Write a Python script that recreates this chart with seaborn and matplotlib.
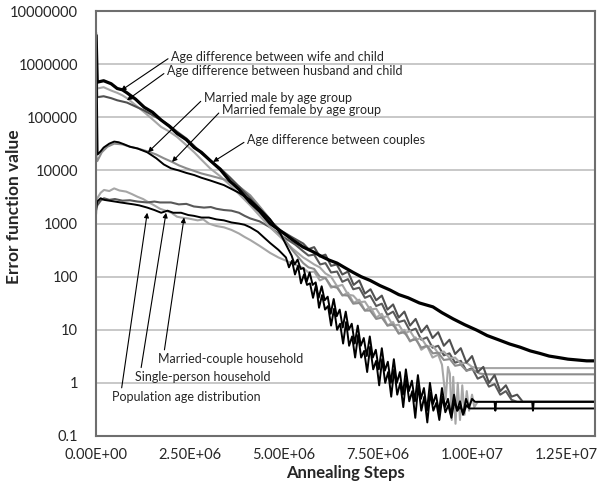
import matplotlib
matplotlib.use('Agg')
import matplotlib.pyplot as plt
import seaborn as sns
import pandas as pd
from matplotlib.ticker import NullLocator

# (annealing steps in millions, error function value)
wife_child = [
    (0, 3.5e6), (0.03, 4.6e5), (0.2, 4.9e5), (0.4, 4.3e5), (0.56, 3.5e5), (0.7, 3.3e5),
    (0.82, 2.9e5), (1.05, 2.2e5), (1.28, 1.55e5), (1.5, 1.25e5), (1.73, 8.9e4), (1.95, 6.8e4),
    (2.15, 5.0e4), (2.4, 3.8e4), (2.61, 2.7e4), (2.8, 2.2e4), (3.03, 1.55e4), (3.3, 1.05e4),
    (3.56, 6.3e3), (3.8, 4.4e3), (4.1, 2.5e3), (4.35, 1.7e3), (4.63, 1.0e3), (5.0, 650),
    (5.25, 480), (5.51, 360), (5.75, 300), (6.0, 240), (6.2, 205), (6.41, 180), (6.6, 150),
    (6.84, 120), (7.05, 100), (7.29, 85), (7.55, 68), (7.82, 56), (8.05, 46), (8.3, 40),
    (8.6, 32), (8.96, 27), (9.2, 21), (9.5, 16), (9.8, 12.5), (10.13, 9.8), (10.4, 7.8),
    (10.7, 6.5), (11.0, 5.4), (11.28, 4.7), (11.55, 4.0), (11.8, 3.6), (12.05, 3.2),
    (12.3, 3.0), (12.55, 2.8), (12.8, 2.7), (13.05, 2.6), (13.27, 2.6),
]
husband_child = [
    (0, 2.0e6), (0.03, 3.5e5), (0.2, 3.7e5), (0.4, 3.2e5), (0.56, 2.9e5), (0.7, 2.6e5),
    (0.82, 2.3e5), (1.05, 1.7e5), (1.28, 1.25e5), (1.5, 9.2e4), (1.73, 6.6e4), (1.95, 5.4e4),
    (2.15, 4.3e4), (2.4, 3.0e4), (2.61, 2.2e4), (2.8, 1.6e4), (3.03, 1.1e4), (3.3, 7.8e3),
    (3.56, 5.3e3), (3.8, 3.6e3), (4.1, 2.2e3), (4.35, 1.4e3), (4.63, 850), (4.9, 560),
    (5.2, 350), (5.51, 230), (5.65, 200), (5.8, 170), (5.95, 150), (6.1, 115), (6.25, 100),
    (6.41, 66), (6.55, 70), (6.7, 46), (6.84, 44), (7.0, 33), (7.15, 34), (7.29, 24),
    (7.45, 25), (7.6, 17), (7.75, 18), (7.9, 12), (8.05, 12.5), (8.2, 8.5), (8.35, 9.5),
    (8.5, 6.5), (8.65, 7.0), (8.8, 4.8), (8.96, 5.0), (9.1, 3.6), (9.25, 3.9), (9.41, 2.9),
    (9.55, 3.0), (9.7, 2.3), (9.85, 2.4), (10.0, 2.0), (10.13, 1.9), (13.27, 1.9),
]
couples = [
    (0, 1.5e6), (0.03, 2.4e5), (0.2, 2.5e5), (0.4, 2.3e5), (0.56, 2.1e5), (0.82, 1.9e5),
    (1.05, 1.6e5), (1.28, 1.35e5), (1.5, 1.1e5), (1.73, 8.9e4), (1.95, 7.0e4), (2.15, 5.4e4),
    (2.4, 4.0e4), (2.61, 2.9e4), (2.8, 2.1e4), (3.03, 1.55e4), (3.3, 1.1e4), (3.56, 7.4e3),
    (3.8, 5.0e3), (4.1, 3.0e3), (4.35, 1.9e3), (4.63, 1.15e3), (4.9, 750), (5.2, 560),
    (5.51, 420), (5.65, 330), (5.8, 360), (5.95, 240), (6.1, 260), (6.25, 160), (6.4, 170),
    (6.55, 110), (6.7, 125), (6.85, 70), (7.0, 85), (7.15, 48), (7.3, 58), (7.45, 36),
    (7.6, 44), (7.75, 24), (7.9, 30), (8.05, 17), (8.2, 22), (8.35, 12), (8.5, 16), (8.65, 9),
    (8.8, 12), (8.95, 7), (9.1, 9), (9.25, 5), (9.4, 6.5), (9.55, 3.5), (9.7, 4.5),
    (9.85, 2.4), (10.0, 3.2), (10.15, 1.6), (10.3, 2.0), (10.45, 1.0), (10.6, 1.4),
    (10.75, 0.7), (10.9, 0.9), (11.05, 0.55), (11.2, 0.6), (11.35, 0.44), (13.27, 0.44),
]
married_male = [
    (0, 4.0e6), (0.04, 2.0e4), (0.12, 2.3e4), (0.2, 2.7e4), (0.35, 3.2e4), (0.48, 3.5e4),
    (0.6, 3.4e4), (0.75, 3.1e4), (0.9, 2.8e4), (1.1, 2.6e4), (1.36, 2.2e4), (1.6, 1.7e4),
    (1.8, 1.3e4), (1.99, 1.1e4), (2.2, 1.0e4), (2.4, 9.0e3), (2.61, 8.2e3), (2.8, 7.3e3),
    (3.03, 6.5e3), (3.4, 5.3e3), (3.8, 3.8e3), (4.1, 2.8e3), (4.35, 1.9e3), (4.63, 1.2e3),
    (4.9, 650), (5.2, 250), (5.28, 170), (5.36, 210), (5.44, 140), (5.52, 145), (5.6, 80),
    (5.68, 120), (5.76, 70), (5.84, 78), (5.92, 40), (6.0, 66), (6.08, 36), (6.16, 42),
    (6.24, 20), (6.32, 38), (6.4, 18), (6.48, 24), (6.56, 11), (6.64, 22), (6.72, 10),
    (6.8, 13), (6.88, 5.5), (6.96, 12), (7.04, 5), (7.12, 7), (7.2, 3.2), (7.28, 7.5),
    (7.36, 3), (7.44, 4.2), (7.52, 1.8), (7.6, 4.5), (7.68, 1.7), (7.76, 2.5), (7.84, 1.0),
    (7.92, 2.8), (8.0, 1.0), (8.08, 1.6), (8.16, 0.6), (8.24, 1.8), (8.32, 0.7), (8.4, 1.1),
    (8.48, 0.45), (8.56, 1.4), (8.64, 0.5), (8.72, 0.8), (8.8, 0.3), (8.88, 1.0), (8.96, 0.4),
    (9.04, 0.6), (9.12, 0.28), (9.2, 0.8), (9.28, 0.35), (9.36, 0.5), (9.44, 0.25),
    (9.52, 0.6), (9.6, 0.3), (9.68, 0.45), (9.76, 0.25), (9.84, 0.5), (9.92, 0.35),
    (10.0, 0.5), (10.08, 0.44), (10.6, 0.44), (10.62, 0.3), (10.64, 0.44), (11.6, 0.44),
    (11.62, 0.3), (11.64, 0.44), (13.27, 0.44),
]
married_female = [
    (0, 2.0e4), (0.03, 1.5e4), (0.15, 2.2e4), (0.3, 2.8e4), (0.48, 3.2e4), (0.7, 3.1e4),
    (0.9, 2.8e4), (1.1, 2.6e4), (1.36, 2.3e4), (1.6, 2.0e4), (1.8, 1.7e4), (2.02, 1.45e4),
    (2.2, 1.25e4), (2.4, 1.1e4), (2.61, 9.8e3), (2.8, 8.8e3), (3.03, 8.0e3), (3.4, 6.8e3),
    (3.8, 5.0e3), (4.1, 3.4e3), (4.35, 2.1e3), (4.63, 1.2e3), (4.9, 650), (5.2, 330),
    (5.51, 180), (5.65, 150), (5.8, 140), (5.95, 100), (6.1, 95), (6.25, 66), (6.41, 62),
    (6.55, 45), (6.7, 44), (6.84, 31), (7.0, 32), (7.15, 23), (7.29, 23), (7.45, 16),
    (7.6, 17), (7.75, 12), (7.9, 12.5), (8.05, 8.5), (8.2, 9), (8.35, 6.2), (8.5, 6.6),
    (8.65, 4.6), (8.8, 5), (8.96, 3.6), (9.1, 3.7), (9.25, 2.7), (9.41, 2.8), (9.55, 2.1),
    (9.7, 2.2), (9.85, 1.7), (10.0, 1.8), (10.2, 1.5), (10.4, 1.45), (13.27, 1.45),
]
married_couple_hh = [
    (0, 1.5e3), (0.03, 3.0e3), (0.12, 3.8e3), (0.21, 4.3e3), (0.35, 4.1e3), (0.48, 4.6e3),
    (0.62, 4.2e3), (0.8, 4.0e3), (0.95, 3.6e3), (1.1, 3.2e3), (1.25, 2.9e3), (1.36, 2.6e3),
    (1.5, 2.3e3), (1.7, 1.9e3), (1.85, 1.75e3), (2.0, 1.6e3), (2.15, 1.35e3), (2.26, 1.3e3),
    (2.45, 1.25e3), (2.7, 1.15e3), (2.85, 1.2e3), (3.0, 1.0e3), (3.2, 900), (3.4, 850),
    (3.6, 760), (3.8, 650), (3.95, 560), (4.1, 490), (4.35, 380), (4.63, 280), (4.85, 230),
    (5.05, 200), (5.3, 170), (5.51, 145), (5.65, 120), (5.8, 125), (5.95, 85), (6.1, 95),
    (6.25, 62), (6.4, 68), (6.55, 44), (6.7, 50), (6.85, 32), (7.0, 37), (7.15, 23),
    (7.3, 27), (7.45, 17), (7.6, 20), (7.75, 12), (7.9, 14), (8.05, 8.5), (8.2, 10),
    (8.35, 6), (8.5, 7.2), (8.65, 4.2), (8.8, 5), (8.95, 3.0), (9.1, 3.4), (9.2, 2.2),
    (9.3, 0.5), (9.36, 2.0), (9.41, 1.5), (9.46, 0.2), (9.5, 1.3), (9.56, 0.17), (9.62, 1.0),
    (9.68, 0.2), (9.74, 0.9), (9.8, 0.25), (9.86, 0.7), (9.92, 0.3), (10.0, 0.6),
    (10.06, 0.35), (10.15, 0.44), (13.27, 0.44),
]
single_person_hh = [
    (0, 1.8e3), (0.03, 2.2e3), (0.12, 2.7e3), (0.21, 3.0e3), (0.35, 2.8e3), (0.5, 2.9e3),
    (0.7, 2.7e3), (0.9, 2.75e3), (1.1, 2.6e3), (1.36, 2.5e3), (1.55, 2.6e3), (1.7, 2.5e3),
    (1.99, 2.5e3), (2.2, 2.3e3), (2.4, 2.35e3), (2.6, 2.1e3), (2.87, 2.0e3), (3.05, 2.05e3),
    (3.2, 1.9e3), (3.4, 1.8e3), (3.6, 1.75e3), (3.8, 1.6e3), (3.95, 1.4e3), (4.1, 1.25e3),
    (4.35, 1.1e3), (4.63, 850), (4.85, 640), (5.05, 520), (5.3, 400), (5.51, 300),
    (5.65, 250), (5.8, 260), (5.96, 170), (6.1, 180), (6.25, 120), (6.41, 125), (6.55, 80),
    (6.7, 90), (6.84, 58), (7.0, 62), (7.15, 40), (7.29, 44), (7.45, 28), (7.6, 31),
    (7.75, 19), (7.9, 22), (8.05, 14), (8.2, 15), (8.35, 9.5), (8.5, 10.5), (8.65, 6.5),
    (8.8, 7.2), (8.95, 4.6), (9.1, 5.0), (9.25, 3.3), (9.4, 3.6), (9.55, 2.4), (9.7, 2.6),
    (9.85, 1.7), (10.0, 1.9), (10.15, 1.2), (10.3, 1.35), (10.45, 0.85), (10.6, 0.95),
    (10.75, 0.6), (10.9, 0.7), (11.05, 0.48), (11.2, 0.44), (13.27, 0.44),
]
population_age = [
    (0, 2.0e3), (0.03, 2.6e3), (0.12, 3.0e3), (0.21, 2.8e3), (0.35, 2.7e3), (0.5, 2.6e3),
    (0.65, 2.5e3), (0.82, 2.4e3), (1.0, 2.3e3), (1.15, 2.2e3), (1.36, 2.0e3), (1.55, 1.8e3),
    (1.73, 1.6e3), (1.9, 1.75e3), (2.05, 1.6e3), (2.26, 1.6e3), (2.45, 1.45e3), (2.6, 1.4e3),
    (2.8, 1.3e3), (3.0, 1.3e3), (3.2, 1.2e3), (3.4, 1.15e3), (3.6, 1.05e3), (3.8, 1.0e3),
    (3.95, 950), (4.1, 850), (4.3, 700), (4.45, 560), (4.63, 430), (4.85, 320), (5.05, 230),
    (5.13, 150), (5.21, 200), (5.29, 110), (5.37, 160), (5.45, 75), (5.53, 110), (5.61, 70),
    (5.69, 75), (5.77, 40), (5.85, 70), (5.93, 26), (6.01, 45), (6.09, 24), (6.17, 28),
    (6.25, 12), (6.33, 25), (6.41, 10), (6.49, 13), (6.57, 5.5), (6.65, 14), (6.73, 5),
    (6.81, 7.5), (6.89, 3), (6.97, 8), (7.05, 3), (7.13, 4), (7.21, 1.6), (7.29, 4.8),
    (7.37, 1.8), (7.45, 2.6), (7.53, 0.9), (7.61, 2.8), (7.69, 1.0), (7.77, 1.6), (7.85, 0.55),
    (7.93, 1.8), (8.01, 0.6), (8.09, 1.0), (8.17, 0.35), (8.25, 1.2), (8.33, 0.45),
    (8.41, 0.7), (8.49, 0.22), (8.57, 0.9), (8.65, 0.3), (8.73, 0.55), (8.81, 0.18),
    (8.89, 0.65), (8.97, 0.3), (9.05, 0.42), (9.13, 0.2), (9.21, 0.55), (9.29, 0.28),
    (9.37, 0.38), (9.45, 0.22), (9.53, 0.45), (9.61, 0.3), (9.69, 0.36), (9.77, 0.26),
    (9.85, 0.38), (9.93, 0.33), (13.27, 0.33),
]

# drawing order: grays under blacks
series = [
    (married_couple_hh, '#a6a6a6', 1.5),
    (single_person_hh, '#595959', 1.5),
    (husband_child, '#a6a6a6', 1.5),
    (married_female, '#8c8c8c', 1.5),
    (couples, '#505050', 1.5),
    (married_male, 'black', 1.4),
    (population_age, 'black', 1.4),
    (wife_child, 'black', 2.3),
]

sns.set_style('white')
plt.rcParams['font.family'] = ['Lato', 'DejaVu Sans']

fig, ax = plt.subplots(figsize=(5.97, 4.86), dpi=100)
fig.subplots_adjust(left=0.161, right=0.9966, bottom=0.1029, top=0.977)

for pts, color, lw in series:
    df = pd.DataFrame(pts, columns=['step', 'error'])
    df['step'] = df['step'] * 1e6
    sns.lineplot(data=df, x='step', y='error', color=color, linewidth=lw,
                 estimator=None, sort=False, ax=ax)

ax.set_yscale('log')
ax.set_ylim(0.1, 1e7)
ax.set_xlim(0, 1.327e7)
yticks = [0.1, 1, 10, 100, 1000, 10000, 100000, 1000000, 10000000]
ax.set_yticks(yticks)
ax.set_yticklabels(['0.1'] + [str(int(v)) for v in yticks[1:]])
ax.yaxis.set_minor_locator(NullLocator())
xticks = [0, 2.5e6, 5e6, 7.5e6, 1e7, 1.25e7]
ax.set_xticks(xticks)
ax.set_xticklabels(['{:.2E}'.format(v) for v in xticks])

ax.yaxis.grid(True, color='#bfbfbf', linewidth=1.2)
ax.set_axisbelow(True)
ax.tick_params(axis='y', length=0, pad=13, labelsize=10.5)
ax.tick_params(axis='x', direction='in', length=4, width=1, color='#888888',
               pad=9, labelsize=10.5)
for sp in ax.spines.values():
    sp.set_color('#6e6e6e')
    sp.set_linewidth(1.5)

ax.set_xlabel('Annealing Steps', fontsize=12, fontweight='bold')
ax.set_ylabel('Error function value', fontsize=12.5, fontweight='bold')
ax.xaxis.set_label_coords(0.5, -0.068)
ax.yaxis.set_label_coords(-0.148, 0.54)

arrow = dict(arrowstyle='-|>', color='black', lw=0.8, mutation_scale=7,
             shrinkA=0, shrinkB=0)
notes = [
    ('Age difference between wife and child', (0.66e6, 3.2e5), (2.0e6, 1.4e6), (0, 0.5)),
    ('Age difference between husband and child', (0.82e6, 2.1e5), (1.89e6, 7.4e5), (0, 0.5)),
    ('Married male by age group', (1.38e6, 2.2e4), (2.87e6, 2.3e5), (0, 0.5)),
    ('Married female by age group', (2.02e6, 1.45e4), (3.35e6, 1.4e5), (0, 0.5)),
    ('Age difference between couples', (3.11e6, 1.45e4), (4.02e6, 3.7e4), (0, 0.5)),
    ('Married-couple household', (2.34e6, 1.3e3), (1.65e6, 2.8), (0.04, 1.0)),
    ('Single-person household', (1.86e6, 1.6e3), (1.04e6, 1.3), (0.04, 1.0)),
    ('Population age distribution', (1.36e6, 1.6e3), (0.43e6, 0.54), (0.06, 1.0)),
]
for text, tip, pos, rel in notes:
    ax.annotate(text, xy=tip, xytext=pos, ha='left', va='center', fontsize=9,
                arrowprops=dict(arrow, relpos=rel))

fig.savefig('out.png', dpi=100)
